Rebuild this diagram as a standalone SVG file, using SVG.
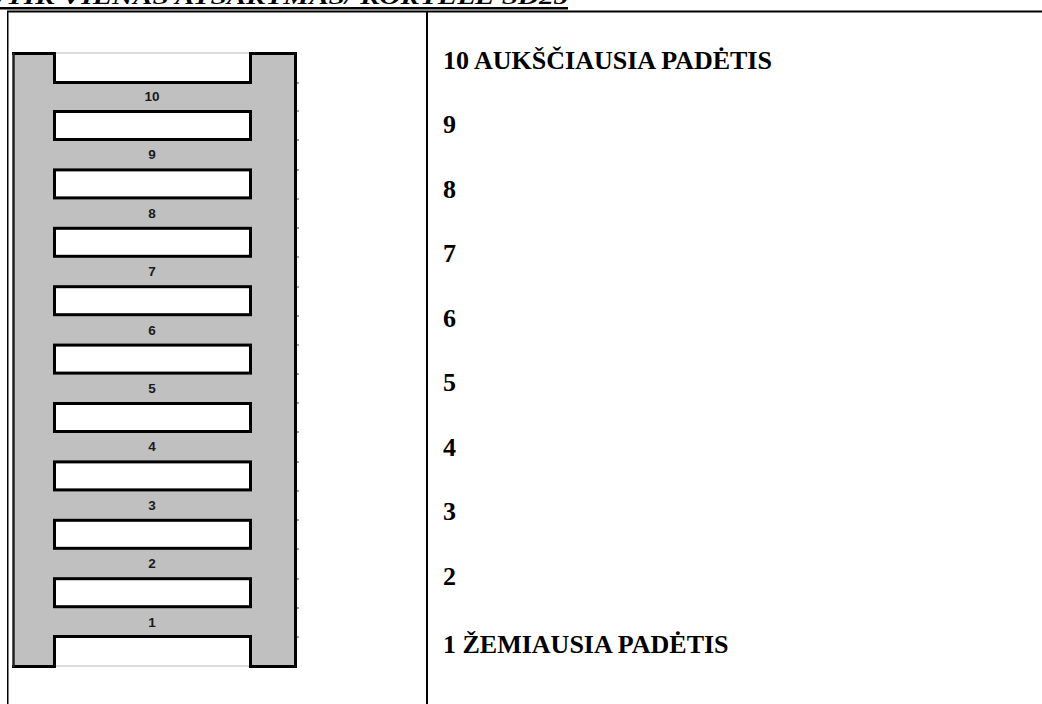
<svg xmlns="http://www.w3.org/2000/svg" width="1042" height="704" viewBox="0 0 1042 704">
<style>
.title{font-family:"Liberation Serif","Times New Roman",serif;font-weight:bold;font-style:italic;font-size:22px;fill:#000}
.lbl{font-family:"Liberation Serif","Times New Roman",serif;font-weight:bold;font-size:26px;fill:#000}
.num{font-family:"Liberation Sans",Arial,sans-serif;font-weight:bold;font-size:13.5px;fill:#1a1a1a;text-anchor:middle}
.hole{fill:#fff;stroke:#000;stroke-width:3}
.edge{stroke:#000;stroke-width:3;fill:none}
.tick{stroke:#444;stroke-width:1}
</style>
<rect width="1042" height="704" fill="#fff"/>
<g id="title">
<text class="title" x="-2" y="4" textLength="570" lengthAdjust="spacingAndGlyphs">/TIK VIENAS ATSAKYMAS/ KORTELĖ SD25</text>
<rect x="0" y="7" width="568" height="2.5" fill="#000"/>
</g>
<g id="table">
<rect x="7" y="10.5" width="1035" height="2" fill="#000"/>
<rect x="7" y="11" width="1.5" height="693" fill="#000"/>
<rect x="426" y="11" width="2" height="693" fill="#000"/>
</g>
<g id="ladder">
<rect x="13" y="53" width="282" height="613" fill="#c0c0c0"/>
<rect x="54" y="53" width="196" height="29" fill="#fff"/>
<rect x="54" y="637" width="196" height="29" fill="#fff"/>
<line x1="54" y1="53" x2="250" y2="53" stroke="#d0d0d0" stroke-width="1.5"/>
<line x1="54" y1="666" x2="250" y2="666" stroke="#d0d0d0" stroke-width="1.5"/>
<path class="edge" d="M12,53.5 H54.5 V82.5 H250.5 V53.5 H295.5 V666.5 H250.5 V636.5 H54.5 V666.5 H12"/>
<line x1="13.5" y1="53" x2="13.5" y2="667" stroke="#222" stroke-width="2.5"/>
<rect class="hole" x="54.5" y="111.5" width="196" height="28"/>
<rect class="hole" x="54.5" y="169.9" width="196" height="28"/>
<rect class="hole" x="54.5" y="228.3" width="196" height="28"/>
<rect class="hole" x="54.5" y="286.7" width="196" height="28"/>
<rect class="hole" x="54.5" y="345.1" width="196" height="28"/>
<rect class="hole" x="54.5" y="403.5" width="196" height="28"/>
<rect class="hole" x="54.5" y="461.9" width="196" height="28"/>
<rect class="hole" x="54.5" y="520.3" width="196" height="28"/>
<rect class="hole" x="54.5" y="578.7" width="196" height="28"/>
<g class="tick">
<line x1="297" y1="83" x2="299" y2="83"/><line x1="297" y1="111" x2="299" y2="111"/><line x1="297" y1="140" x2="299" y2="140"/>
<line x1="297" y1="170" x2="299" y2="170"/><line x1="297" y1="199" x2="299" y2="199"/><line x1="297" y1="228" x2="299" y2="228"/>
<line x1="297" y1="257" x2="299" y2="257"/><line x1="297" y1="287" x2="299" y2="287"/><line x1="297" y1="316" x2="299" y2="316"/>
<line x1="297" y1="345" x2="299" y2="345"/><line x1="297" y1="374" x2="299" y2="374"/><line x1="297" y1="403" x2="299" y2="403"/>
<line x1="297" y1="432" x2="299" y2="432"/><line x1="297" y1="462" x2="299" y2="462"/><line x1="297" y1="491" x2="299" y2="491"/>
<line x1="297" y1="520" x2="299" y2="520"/><line x1="297" y1="549" x2="299" y2="549"/><line x1="297" y1="579" x2="299" y2="579"/>
<line x1="297" y1="608" x2="299" y2="608"/><line x1="297" y1="637" x2="299" y2="637"/>
</g>
<text class="num" x="152" y="101">10</text>
<text class="num" x="152" y="159.4">9</text>
<text class="num" x="152" y="217.8">8</text>
<text class="num" x="152" y="276.2">7</text>
<text class="num" x="152" y="334.6">6</text>
<text class="num" x="152" y="393">5</text>
<text class="num" x="152" y="451.4">4</text>
<text class="num" x="152" y="509.8">3</text>
<text class="num" x="152" y="568.2">2</text>
<text class="num" x="152" y="626.6">1</text>
</g>
<g id="labels">
<text class="lbl" x="443" y="69">10 AUKŠČIAUSIA PADĖTIS</text>
<text class="lbl" x="443" y="133">9</text>
<text class="lbl" x="443" y="198">8</text>
<text class="lbl" x="443" y="262">7</text>
<text class="lbl" x="443" y="327">6</text>
<text class="lbl" x="443" y="391">5</text>
<text class="lbl" x="443" y="456">4</text>
<text class="lbl" x="443" y="520">3</text>
<text class="lbl" x="443" y="585">2</text>
<text class="lbl" x="443" y="653">1 ŽEMIAUSIA PADĖTIS</text>
</g>
</svg>
